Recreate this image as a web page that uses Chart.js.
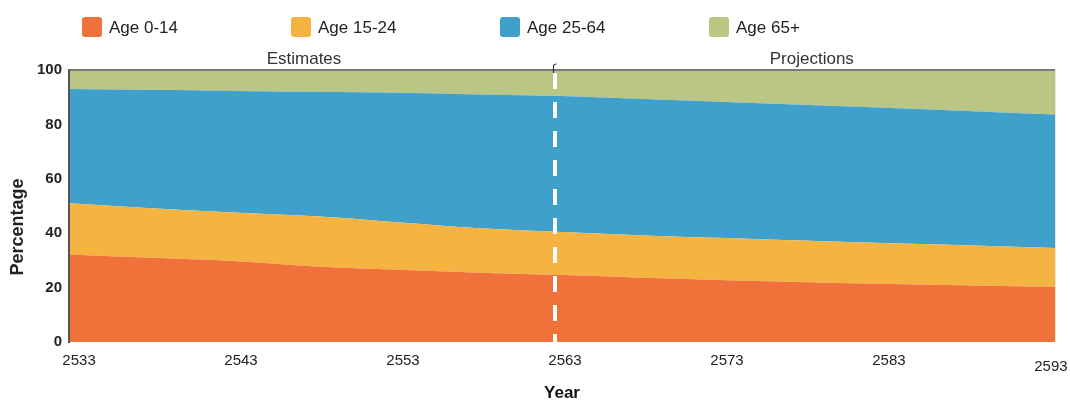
<!DOCTYPE html>
<html><head><meta charset="utf-8">
<script src="https://cdn.jsdelivr.net/npm/chart.js@4"></script>
<style>html,body{margin:0;padding:0;background:#fff}#wrap{width:1070px;height:400px;position:relative}</style>
</head><body><div id="wrap"><canvas id="c"></canvas></div>
<script>
const years = [2533,2538,2543,2548,2553,2558,2563,2568,2573,2578,2583,2588,2593];
const age0_14 = [32.2,31.0,29.8,27.8,26.6,25.5,24.6,23.6,22.7,22.0,21.3,20.8,20.3];
const age15_24 = [18.8,18.2,17.8,18.4,17.4,16.3,15.8,15.6,15.5,15.2,15.0,14.7,14.3];
const age25_64 = [42.0,43.5,44.7,45.8,47.6,49.2,50.0,50.1,50.0,49.9,49.7,49.3,49.0];
const age65plus = [7.0,7.3,7.7,8.0,8.4,9.0,9.6,10.7,11.8,12.9,14.0,15.2,16.4];
const seriesLabels = ['Age 0-14','Age 15-24','Age 25-64','Age 65+'];
const seriesColors = ['#F07139','#F5B342','#3FA0CB','#BAC683'];
const xTickYears = [2533,2543,2553,2563,2573,2583,2593];
const yTicks = [0,20,40,60,80,100];
const splitYear = 2562.6;
const sectionLabels = ['Estimates','Projections'];
const sectionCenters = [2547.3, 2578.2];
const xTitle = 'Year';
const yTitle = 'Percentage';

const FONT = '"Liberation Sans", Arial, sans-serif';
Chart.defaults.font.family = FONT;

const seriesValues = [age0_14, age15_24, age25_64, age65plus];
const datasets = seriesValues.map((vals, i) => ({
  label: seriesLabels[i],
  data: years.map((y, k) => ({x: y, y: vals[k]})),
  xAxisID: 'xd',
  backgroundColor: seriesColors[i],
  borderWidth: 0,
  pointRadius: 0,
  fill: i === 0 ? 'origin' : '-1',
  cubicInterpolationMode: 'monotone'
}));

const overlay = {
  id: 'overlay',
  afterDatasetsDraw(chart) {
    const {ctx, chartArea: a, scales} = chart;
    const xd = scales.xd;
    ctx.save();
    // top border
    ctx.strokeStyle = '#7a7a7a'; ctx.lineWidth = 2;
    ctx.beginPath(); ctx.moveTo(a.left, a.top); ctx.lineTo(a.right, a.top); ctx.stroke();
    // right faint edge
    ctx.strokeStyle = '#e6e6dc'; ctx.lineWidth = 1;
    ctx.beginPath(); ctx.moveTo(a.right + 0.5, a.top); ctx.lineTo(a.right + 0.5, a.bottom); ctx.stroke();
    // dashed split line
    const sx = Math.round(xd.getPixelForValue(splitYear));
    ctx.strokeStyle = '#ffffff'; ctx.lineWidth = 4; ctx.setLineDash([16, 13]);
    ctx.beginPath(); ctx.moveTo(sx, a.top + 3); ctx.lineTo(sx, a.bottom + 4); ctx.stroke();
    ctx.setLineDash([]);
    // small hook at top
    ctx.strokeStyle = '#333'; ctx.lineWidth = 1.2;
    ctx.beginPath(); ctx.moveTo(sx - 1.5, a.top + 3); ctx.lineTo(sx - 1.5, a.top - 4);
    ctx.quadraticCurveTo(sx - 1.5, a.top - 6, sx + 1.5, a.top - 6); ctx.stroke();
    // section labels
    ctx.font = '17px ' + FONT; ctx.fillStyle = '#333';
    ctx.textAlign = 'center'; ctx.textBaseline = 'middle';
    sectionLabels.forEach((t, i) => ctx.fillText(t, xd.getPixelForValue(sectionCenters[i]), a.top - 11));
    ctx.restore();
  },
  afterDraw(chart) {
    const {ctx} = chart;
    ctx.save();
    // legend
    const lx0 = 82, lstep = 209, ly = 27;
    ctx.font = '17px ' + FONT; ctx.textAlign = 'left'; ctx.textBaseline = 'middle';
    chart.data.datasets.forEach((d, i) => {
      const x = lx0 + i * lstep;
      ctx.fillStyle = d.backgroundColor;
      ctx.beginPath(); ctx.roundRect(x, ly - 10, 20, 20, 3); ctx.fill();
      ctx.fillStyle = '#222';
      ctx.fillText(d.label, x + 27, ly + 1);
    });
    // y title
    ctx.translate(18, 227); ctx.rotate(-Math.PI / 2);
    ctx.font = 'bold 18px ' + FONT; ctx.fillStyle = '#222'; ctx.textAlign = 'center';
    ctx.fillText(yTitle, 0, 0);
    ctx.restore();
  }
};

new Chart(document.getElementById('c'), {
  type: 'line',
  data: {datasets},
  options: {
    responsive: true, maintainAspectRatio: false, animation: false,
    layout: {padding: {top: 70, right: 15, bottom: 0, left: 0}},
    plugins: {legend: {display: false}, tooltip: {enabled: false}},
    scales: {
      xd: {type: 'linear', min: years[0], max: years[years.length - 1], display: false},
      x: {
        type: 'linear', position: 'bottom', min: 2532.38, max: 2593.25,
        grid: {display: false, drawTicks: false}, border: {display: false},
        afterBuildTicks(s) { s.ticks = xTickYears.map(v => ({value: v})); },
        ticks: {
          autoSkip: false, maxRotation: 0, padding: 10, color: '#222',
          font: (c) => ({size: 15, lineHeight: c.index === xTickYears.length - 1 ? 1.93 : 1.2}),
          callback: (v) => String(v)
        },
        title: {display: true, text: xTitle, color: '#111', padding: 0,
          font: {size: 17, weight: 'bold', lineHeight: 0.8}},
        afterFit(s) { s.height = 58; s.paddingLeft = 0; s.paddingRight = 0; }
      },
      y: {
        stacked: true, min: 0, max: 100,
        afterBuildTicks(s) { s.ticks = yTicks.map(v => ({value: v})); },
        grid: {display: false, drawTicks: false},
        border: {display: true, color: '#555', width: 2, z: 1},
        ticks: {padding: 7, color: '#222', font: {size: 15, weight: 'bold'}},
        afterFit(s) { s.width = 69; s.paddingTop = 0; s.paddingBottom = 0; }
      }
    }
  },
  plugins: [overlay]
});
</script>
</body></html>
